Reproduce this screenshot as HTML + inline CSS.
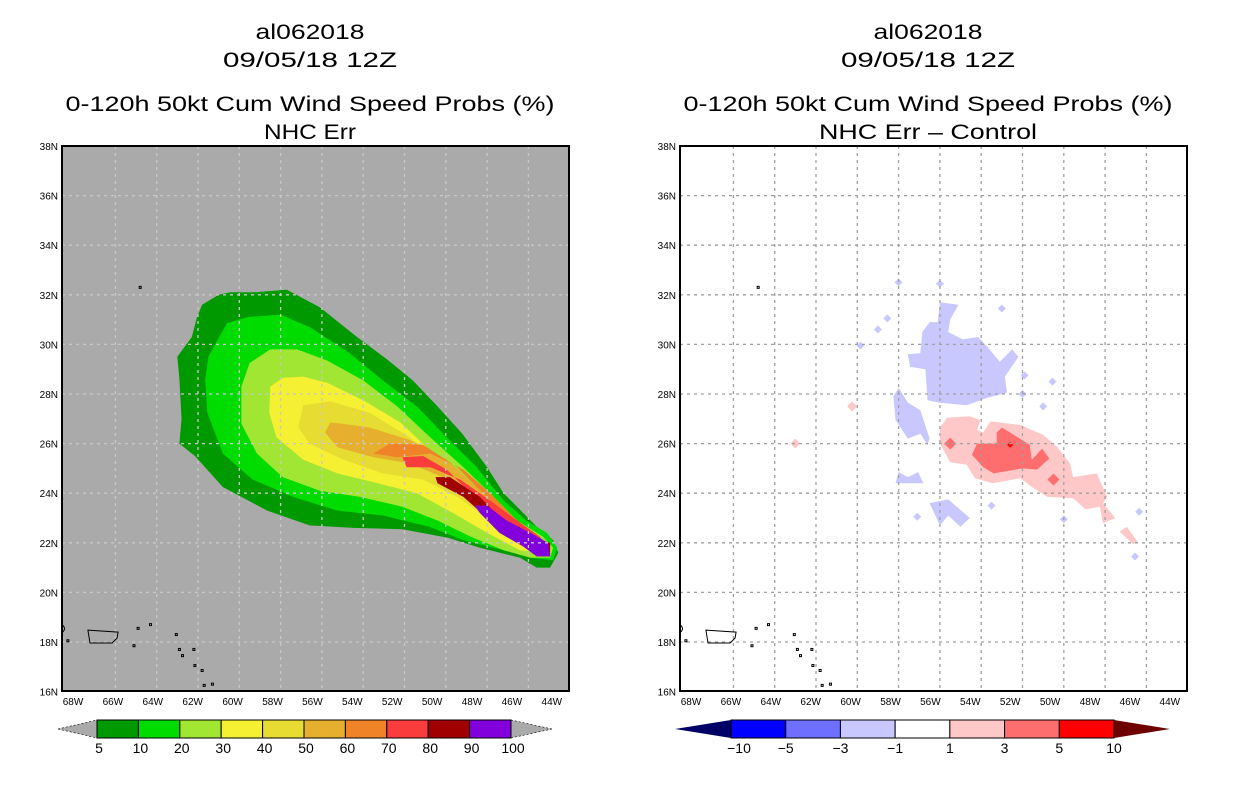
<!DOCTYPE html>
<html><head><meta charset="utf-8"><style>
html,body{margin:0;padding:0;background:#fff;}
svg{display:block;font-family:"Liberation Sans",sans-serif;}
</style></head><body>
<svg id="chart" width="1236" height="800" viewBox="0 0 1236 800"></svg>
<script>
// ---- data (lon in degrees West, lat in degrees North) ----
const probLevels = [5,10,20,30,40,50,60,70,80,90,100];
const probColors = ["#009a00","#00dc00","#a0e632","#f5f032","#e6dc32","#e6af2d","#f08228","#fa3c3c","#a00000","#8200dc"];
const diffLevels = [-10,-5,-3,-1,1,3,5,10];
const diffColors = ["#0000ff","#6e6eff","#c8c8ff","#ffffff","#ffc8c8","#ff6e6e","#ff0000"];
const lonTicks = [68,66,64,62,60,58,56,54,52,50,48,46,44];
const latTicks = [16,18,20,22,24,26,28,30,32,34,36,38];

const prob05 = [[61.0,32.0],[61.8,31.6],[62.05,31.1],[62.3,30.3],[63.0,29.5],[62.9,28.6],[62.8,27.0],[62.9,26.0],[62.15,25.5],[60.8,24.25],[58.65,23.3],[56.6,22.7],[54.5,22.6],[52.1,22.55],[49.9,22.2],[48.35,21.8],[46.4,21.4],[45.6,21.0],[44.95,21.0],[44.55,21.6],[44.8,22.1],[45.6,22.65],[47.2,24.0],[48.0,25.05],[49.2,26.4],[50.4,27.5],[51.6,28.55],[52.85,29.4],[54.3,30.3],[56.1,31.5],[57.7,32.2],[59.35,32.1],[60.45,32.1]];
const prob10 = [[60.6,30.85],[61.5,29.5],[61.65,28.55],[61.55,27.25],[60.8,25.6],[59.35,24.55],[57.4,23.85],[55.25,23.3],[53.05,23.1],[50.8,22.65],[49.15,22.1],[47.2,21.7],[45.9,21.4],[44.8,21.3],[44.6,21.8],[45.1,22.4],[46.1,22.9],[47.2,23.7],[48.5,25.05],[49.95,26.25],[51.4,27.5],[53.05,28.55],[54.65,29.65],[56.6,30.7],[58.0,31.2],[59.6,31.1]];
const prob20 = [[58.5,29.8],[59.5,29.25],[59.9,28.3],[59.9,26.8],[59.15,25.6],[57.9,24.65],[56.1,24.1],[54.15,23.85],[52.1,23.45],[50.4,22.9],[48.8,22.25],[47.2,21.7],[45.9,21.4],[44.95,21.4],[44.8,21.8],[45.3,22.25],[46.55,22.9],[47.85,24.0],[49.15,25.05],[50.75,26.25],[52.35,27.5],[54.0,28.55],[55.75,29.35],[57.2,29.8]];
const prob30 = [[57.9,28.65],[58.5,28.3],[58.55,27.25],[58.2,26.25],[56.9,25.35],[55.25,24.8],[53.3,24.4],[51.4,24.0],[49.65,23.2],[48.0,22.4],[46.4,21.7],[45.3,21.6],[44.95,21.8],[45.3,22.1],[46.4,22.65],[47.85,23.45],[49.15,24.55],[50.6,25.6],[52.2,26.85],[54.0,27.75],[55.75,28.45],[56.9,28.7]];
const prob40 = [[56.9,27.55],[57.15,26.65],[56.6,26.0],[54.95,25.35],[53.05,24.8],[51.1,24.55],[49.45,23.85],[47.85,22.9],[46.4,22.1],[45.45,21.7],[45.1,22.0],[46.25,22.5],[47.5,23.3],[48.8,24.25],[50.15,25.2],[51.75,26.25],[53.7,27.25],[55.6,27.7]];
const prob50 = [[55.6,26.85],[55.85,26.45],[55.25,25.85],[53.5,25.45],[51.75,25.2],[50.15,24.65],[48.7,23.85],[47.25,22.9],[45.9,22.1],[45.3,21.85],[45.1,22.0],[45.9,22.4],[47.25,23.2],[48.5,24.25],[49.95,25.35],[51.75,26.15],[53.7,26.65],[55.0,26.8]];
const prob60 = [[53.5,25.6],[52.7,26.0],[51.1,25.95],[49.45,25.05],[48.2,24.0],[46.9,22.9],[45.8,22.0],[45.1,21.85],[45.6,22.25],[46.75,23.05],[47.85,24.0],[49.15,24.95],[50.75,25.6],[52.35,25.45]];
const prob70 = [[52.1,25.45],[51.1,25.5],[49.95,24.95],[48.8,24.0],[47.5,22.9],[46.25,22.1],[45.1,21.85],[45.45,22.25],[46.55,22.9],[47.85,23.7],[49.3,24.55],[50.75,25.05],[51.9,25.05]];
const prob80 = [[50.5,24.65],[49.8,24.65],[48.35,23.85],[47.25,22.9],[46.1,22.25],[44.95,22.0],[44.95,21.45],[45.6,21.45],[46.4,22.0],[47.85,22.9],[49.15,23.85],[50.4,24.4]];
const prob90 = [[48.6,23.5],[48.0,23.5],[47.05,22.9],[45.9,22.4],[45.05,22.0],[44.95,21.45],[45.6,21.45],[46.25,21.85],[47.4,22.4],[48.35,23.2]];

const diffNeg1 = [[56.0,31.7],[55.1,31.6],[55.5,31.0],[55.6,30.5],[54.9,30.2],[54.15,30.3],[53.7,29.9],[53.1,29.3],[52.5,29.8],[52.2,29.5],[52.85,28.7],[52.75,28.05],[53.7,27.85],[54.7,27.55],[56.0,27.65],[56.6,27.75],[56.7,29.0],[57.45,29.1],[57.55,29.6],[56.95,29.65],[56.85,30.5],[56.5,30.9],[56.1,30.9]];
const diffNeg2 = [[58.0,28.25],[58.25,27.9],[58.15,26.95],[57.55,26.2],[56.95,26.4],[56.6,25.95],[56.5,26.2],[56.95,27.35],[57.55,27.65]];
const diffNeg3 = [[56.5,23.6],[55.6,23.75],[54.55,23.0],[55.0,22.65],[55.6,23.1],[56.0,22.7]];
const diffNeg4 = [[58.0,24.85],[58.15,24.4],[56.8,24.4],[57.05,24.85],[57.55,24.65]];
const diffNegDots = [[53.0,31.45],[58.55,31.05],[59.0,30.6],[51.9,28.75],[52.0,28.0],[51.0,27.5],[50.55,28.5],[58.0,32.5],[56.0,32.45],[57.1,23.05],[50.0,22.95],[53.5,23.5],[46.35,23.25],[46.55,21.45],[59.85,29.95]];
const diffPos1 = [[56.0,26.65],[55.65,27.05],[54.55,27.1],[54.05,26.95],[54.2,26.55],[53.9,26.45],[53.55,26.9],[52.1,26.75],[51.0,26.35],[50.3,25.85],[49.7,25.2],[49.55,24.65],[48.4,24.8],[47.9,23.85],[48.1,23.6],[47.5,23.0],[48.1,22.8],[48.25,23.45],[48.95,23.35],[49.55,23.8],[50.8,23.85],[51.55,24.25],[52.1,24.6],[53.45,24.4],[54.3,24.6],[54.7,25.15],[55.5,25.25],[56.0,26.0]];
const diffPos2 = [[47.3,22.45],[46.95,22.65],[46.4,22.0],[46.65,21.95]];
const diffPosDots = [[60.25,27.5],[63.0,26.0]];
const diffPos3a = [[54.45,25.55],[54.2,26.0],[53.25,26.0],[53.25,26.45],[53.0,26.65],[51.65,25.95],[51.55,25.35],[51.05,25.8],[50.7,25.4],[51.3,24.95],[52.0,25.0],[53.4,24.8],[53.9,25.05]];
const diffPos3Dots = [[50.5,24.55],[55.5,26.0]];

const puertoRico = [[67.33,18.48],[65.87,18.4],[65.92,18.16],[66.16,17.96],[67.23,17.96]];
const smallIslands = [[64.8,32.3],[68.3,18.05],[65.1,17.85],[64.9,18.55],[64.3,18.7],[63.05,18.3],[62.9,17.7],[62.75,17.45],[62.2,17.7],[62.15,17.05],[61.8,16.85],[61.7,16.25],[61.3,16.3]];

// ---- scales ----
const svg = document.getElementById('chart');
const NS = 'http://www.w3.org/2000/svg';
function X(w, off){ return 198 + off + (62 - w) * 20.65; }
function Y(lat){ return 394 + (28 - lat) * 24.8; }
function labelX(w, off){ return 73 + off + (68 - w) * 19.95; }
function mk(tag, attrs, parent){
  const e = document.createElementNS(NS, tag);
  for (const k in attrs) e.setAttribute(k, attrs[k]);
  (parent || svg).appendChild(e);
  return e;
}
function pts(arr, off){ return arr.map(p => X(p[0],off).toFixed(1)+','+Y(p[1]).toFixed(1)).join(' '); }
function diamond(p, off, r, fill, parent){
  const cx = X(p[0],off), cy = Y(p[1]);
  return mk('polygon',{points:`${cx-r},${cy} ${cx},${cy-r} ${cx+r},${cy} ${cx},${cy+r}`,fill:fill},parent);
}

function panel(off, titleLines, widths, isProb){
  const g = mk('g',{});
  
  
  const cx = 310 + off;
  const ys = [39, 67, 111, 139];
  const names = ['storm-id-title','date-title','product-title','subtitle'];
  titleLines.forEach((s,i)=>{
    const t = mk('text',{x:cx,y:ys[i],'text-anchor':'middle','font-size':21,fill:'#000',textLength:widths[i],lengthAdjust:'spacingAndGlyphs'},g);
    t.textContent = s;
    
    
  });

  const bg = mk('rect',{x:62+off,y:146,width:507,height:545,fill:isProb?'#aaaaaa':'#ffffff'},g);
   

  const cg = mk('g',{},g);
   
  if (isProb){
    const polys = [prob05,prob10,prob20,prob30,prob40,prob50,prob60,prob70,prob80,prob90];
    polys.forEach((pl,i)=>{
      const p = mk('polygon',{points:pts(pl,off),fill:probColors[i]},cg);
      
      
    });
  } else {
    [diffNeg1,diffNeg2,diffNeg3,diffNeg4].forEach(pl=>{
      const p = mk('polygon',{points:pts(pl,off),fill:diffColors[2]},cg);
      
      
    });
    diffNegDots.forEach(d=>{ const p=diamond(d,off,4,diffColors[2],cg);
        });
    [diffPos1,diffPos2].forEach(pl=>{
      const p = mk('polygon',{points:pts(pl,off),fill:diffColors[4]},cg);
      
      
    });
    diffPosDots.forEach(d=>{ const p=diamond(d,off,5,diffColors[4],cg);
        });
    const p3 = mk('polygon',{points:pts(diffPos3a,off),fill:diffColors[5]},cg);
    
    
    diffPos3Dots.forEach(d=>{ const p=diamond(d,off,6,diffColors[5],cg);
        });
    const r = diamond([52.6,25.95],off,3,diffColors[6],cg);
     
  }

  // grid
  const gg = mk('g',{stroke:isProb?'#c8c8c8':'#a0a0a0','stroke-width':1.3,'stroke-dasharray':'3,4'},g);
   
  for (let w=66; w>=46; w-=2){ mk('line',{x1:X(w,off),y1:146,x2:X(w,off),y2:691},gg); }
  for (let lat=18; lat<=36; lat+=2){ mk('line',{x1:62+off,y1:Y(lat),x2:569+off,y2:Y(lat)},gg); }

  // land
  const lg = mk('g',{stroke:'#000','stroke-width':1,fill:'none'},g);
   
  mk('polygon',{points:pts(puertoRico,off)},lg);
  smallIslands.forEach(s=>{ mk('rect',{x:X(s[0],off)-1,y:Y(s[1])-1,width:2,height:2},lg); });
  mk('path',{d:`M${62+off},${Y(18.7)} q5,4 0,8`},lg);

  // frame
  const fr = mk('rect',{x:62+off,y:146,width:507,height:545,fill:'none',stroke:'#000','stroke-width':2},g);
   

  // tick labels
  const tg = mk('g',{'font-size':10,fill:'#000'},g);
   
  lonTicks.forEach(w=>{ const t=mk('text',{x:labelX(w,off),y:705,'text-anchor':'middle'},tg); t.textContent=w+'W';
      });
  latTicks.forEach(l=>{ const t=mk('text',{x:58+off,y:Y(l)+4,'text-anchor':'end'},tg); t.textContent=l+'N';
      });
}

panel(0, ['al062018','09/05/18 12Z','0-120h 50kt Cum Wind Speed Probs (%)','NHC Err'], [109,174,489,92], true);
panel(618, ['al062018','09/05/18 12Z','0-120h 50kt Cum Wind Speed Probs (%)','NHC Err \u2013 Control'], [109,174,489,218], false);

// ---- colorbars ----
(function(){
  const g = mk('g',{}); 
   
  const x0=97, x1=511, n=probColors.length, bw=(x1-x0)/n;
  mk('polygon',{points:`58,729 ${x0},720 ${x0},738`,fill:'#aaaaaa',stroke:'#000','stroke-width':0.6,'stroke-dasharray':'2,2'},g);
  mk('polygon',{points:`552,729 ${x1},720 ${x1},738`,fill:'#aaaaaa',stroke:'#000','stroke-width':0.6,'stroke-dasharray':'2,2'},g);
  probColors.forEach((c,i)=>{ const r=mk('rect',{x:x0+i*bw,y:720,width:bw,height:18,fill:c,stroke:'#000','stroke-width':1},g);
      });
  probLevels.forEach((v,i)=>{ const t=mk('text',{x:x0+i*bw+2,y:753,'text-anchor':'middle','font-size':14},g); t.textContent=v;
      });
})();
(function(){
  const g = mk('g',{});
   
  const x0=731, x1=1114, n=diffColors.length, bw=(x1-x0)/n;
  mk('polygon',{points:`675,729 ${x0},720 ${x0},738`,fill:'#000066'},g);
  mk('polygon',{points:`1170,729 ${x1},720 ${x1},738`,fill:'#6e0000'},g);
  diffColors.forEach((c,i)=>{ const r=mk('rect',{x:x0+i*bw,y:720,width:bw,height:18,fill:c,stroke:'#000','stroke-width':1},g);
      });
  diffLevels.forEach((v,i)=>{ const t=mk('text',{x:x0+i*bw+(i===0?8:0),y:753,'text-anchor':'middle','font-size':14},g); t.textContent=(v<0?'\u2212'+(-v):v);
      });
})();
</script>
</body></html>
